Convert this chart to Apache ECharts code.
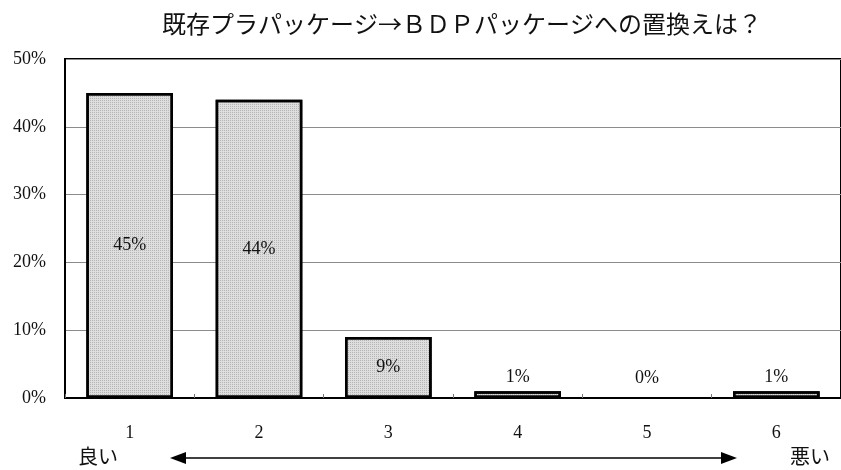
<!DOCTYPE html>
<html>
<head>
<meta charset="utf-8">
<script src="https://cdn.jsdelivr.net/npm/echarts@6/dist/echarts.min.js"></script>
<style>
  html, body { margin: 0; padding: 0; background: #fff; }
  #chart { width: 841px; height: 470px; }
</style>
</head>
<body>
<div id="chart"></div>
<script>
// Survey answers on a 1 (good) to 6 (bad) scale
const titleText = '既存プラパッケージ→ＢＤＰパッケージへの置換えは？';
const categories = ['1', '2', '3', '4', '5', '6'];
const shares = [45, 44, 9, 1, 0, 1];
const yTicks = { min: 0, max: 50, interval: 10 };
const goodLabel = '良い';
const badLabel = '悪い';

const serif = "'Liberation Serif', 'DejaVu Serif', serif";
const jp = "'Noto Sans CJK JP', sans-serif";

const chart = echarts.init(document.getElementById('chart'), null, { renderer: 'canvas' });

chart.setOption({
  backgroundColor: '#ffffff',
  animation: false,
  title: {
    text: titleText,
    left: 457,
    textAlign: 'center',
    top: 7,
    textStyle: { fontFamily: jp, fontSize: 24, fontWeight: 'normal', color: '#111' }
  },
  grid: {
    left: 65, right: -3, top: 59, bottom: 72,
    show: true, borderColor: '#000', borderWidth: 2, backgroundColor: 'transparent'
  },
  xAxis: {
    type: 'category',
    data: categories,
    axisLine: { lineStyle: { color: '#000', width: 2 } },
    axisTick: { show: true, inside: true, length: 4, lineStyle: { color: '#777' } },
    axisLabel: { fontFamily: serif, fontSize: 18, color: '#111', margin: 26 }
  },
  yAxis: {
    type: 'value',
    min: yTicks.min, max: yTicks.max, interval: yTicks.interval,
    axisLine: { show: true, lineStyle: { color: '#000', width: 2 } },
    axisTick: { show: false },
    axisLabel: { fontFamily: serif, fontSize: 18, color: '#111', margin: 19, formatter: '{value}%' },
    splitLine: { lineStyle: { color: '#8c8c8c', width: 1 } }
  },
  series: [{
    type: 'bar',
    data: shares.map(v => ({
      value: v,
      itemStyle: v === 0 ? { borderWidth: 0 } : undefined,
      label: { position: v >= 5 ? 'inside' : 'top', distance: v === 0 ? 11 : 5 }
    })),
    barCategoryGap: '33%',
    itemStyle: {
      color: '#dedede',
      borderColor: '#000',
      borderWidth: 2.5,
      decal: {
        symbol: 'rect',
        symbolSize: 1,
        dashArrayX: [1, 1],
        dashArrayY: [1, 1],
        color: 'rgba(120,120,120,0.4)'
      }
    },
    label: {
      show: true,
      formatter: '{c}%',
      fontFamily: serif, fontSize: 18, color: '#111'
    }
  }],
  graphic: [
    { type: 'text', left: 78, top: 446, style: { text: goodLabel, font: "20px 'Noto Sans CJK JP'", fill: '#111' } },
    { type: 'text', left: 790, top: 446, style: { text: badLabel, font: "20px 'Noto Sans CJK JP'", fill: '#111' } },
    { type: 'line', shape: { x1: 180, y1: 458, x2: 724, y2: 458 }, style: { stroke: '#000', lineWidth: 1.5 } },
    { type: 'polygon', shape: { points: [[170, 458], [186, 452], [186, 464]] }, style: { fill: '#000' } },
    { type: 'polygon', shape: { points: [[737, 458], [721, 452], [721, 464]] }, style: { fill: '#000' } }
  ]
});
</script>
</body>
</html>
